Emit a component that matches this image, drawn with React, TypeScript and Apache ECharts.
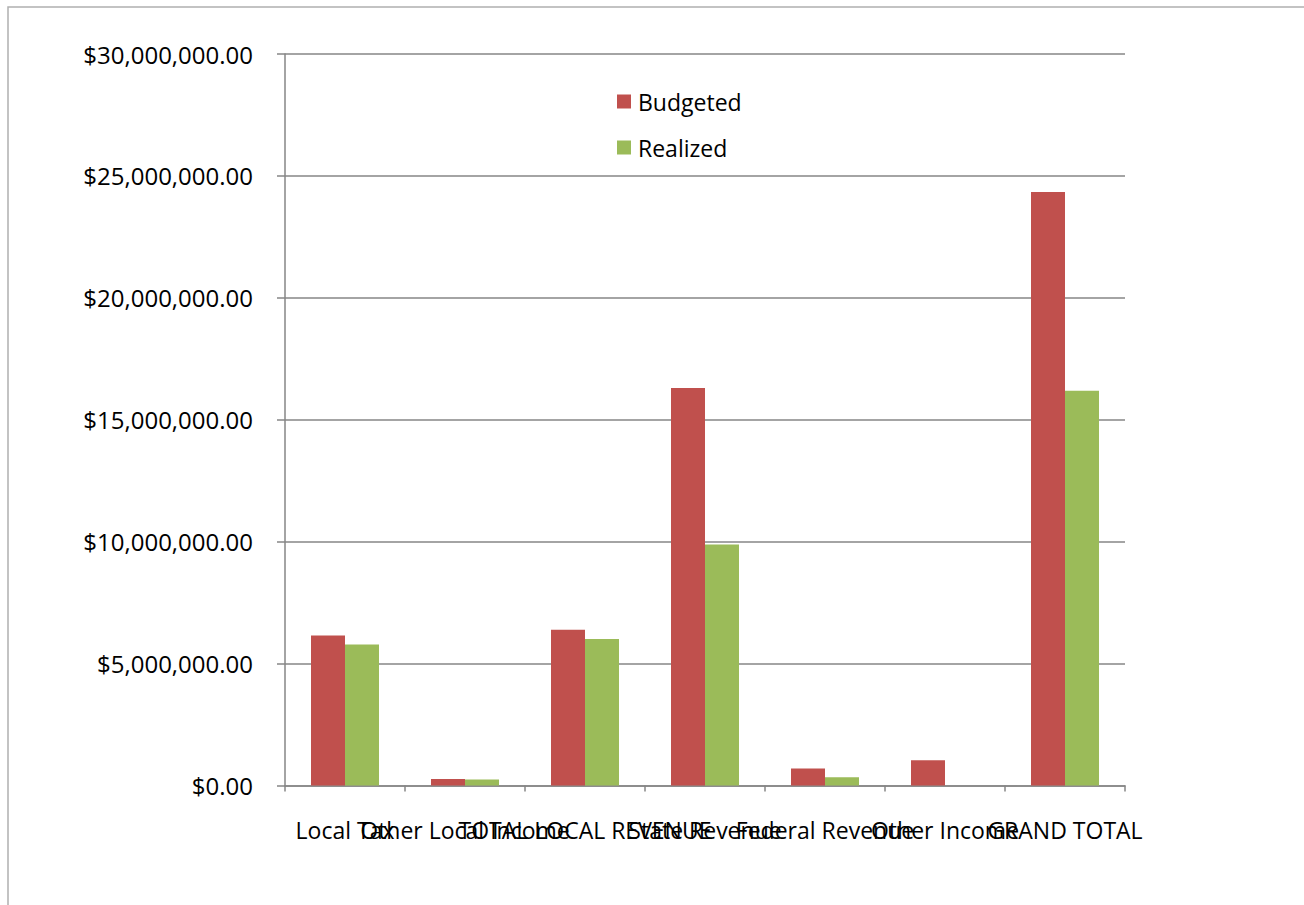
import React, { useEffect, useRef } from "react";
import * as echarts from "echarts";

const categories = [
  "Local Tax",
  "Other Local Income",
  "TOTAL LOCAL REVENUE",
  "State Revenue",
  "Federal Revenue",
  "Other Income",
  "GRAND TOTAL",
];
const budgeted = [6150000, 270000, 6390000, 16300000, 700000, 1040000, 24340000];
const realized = [5780000, 250000, 6010000, 9880000, 340000, 0, 16190000];
const yTicks = { min: 0, max: 30000000, interval: 5000000 };

const FONT = "'Open Sans', 'Noto Sans', sans-serif";

function fmt(v: number) {
  return "$" + v.toLocaleString("en-US", { minimumFractionDigits: 2, maximumFractionDigits: 2 });
}

export default function App() {
  const ref = useRef<HTMLDivElement>(null);
  useEffect(() => {
    if (!ref.current) return;
    const chart = echarts.init(ref.current, null, { renderer: "svg" });
    chart.setOption({
      animation: false,
      backgroundColor: "#ffffff",
      textStyle: { fontFamily: FONT },
      graphic: [
        {
          type: "rect",
          shape: { x: 8, y: 7, width: 1400, height: 1000 },
          style: { fill: "none", stroke: "#b0b0b0", lineWidth: 1.5 },
          silent: true,
        },
      ],
      grid: { left: 285, right: 179, top: 54, bottom: 119.5, containLabel: false },
      legend: {
        orient: "vertical",
        left: 612,
        top: 85,
        itemWidth: 14,
        itemHeight: 14,
        itemGap: 23,
        icon: "rect",
        textStyle: { fontFamily: FONT, fontSize: 23, color: "#000", padding: [0, 0, 0, 2] },
        data: ["Budgeted", "Realized"],
      },
      xAxis: {
        type: "category",
        data: categories,
        axisLine: { lineStyle: { color: "#868686", width: 1.5 } },
        axisTick: { show: true, length: 6, lineStyle: { color: "#868686", width: 1.5 } },
        axisLabel: {
          interval: 0,
          margin: 33,
          color: "#000",
          fontFamily: FONT,
          fontSize: 23,
          hideOverlap: false,
        },
      },
      yAxis: {
        type: "value",
        min: yTicks.min,
        max: yTicks.max,
        interval: yTicks.interval,
        axisLine: { show: true, lineStyle: { color: "#868686", width: 1.5 } },
        axisTick: { show: true, length: 8, lineStyle: { color: "#868686", width: 1.5 } },
        splitLine: { show: true, lineStyle: { color: "#868686", width: 1.5 } },
        axisLabel: {
          margin: 32,
          color: "#000",
          fontFamily: FONT,
          fontSize: 24,
          formatter: (v: number) => fmt(v),
        },
      },
      series: [
        {
          name: "Budgeted",
          type: "bar",
          data: budgeted,
          barWidth: 34,
          barGap: "0%",
          itemStyle: { color: "#C0504D" },
        },
        {
          name: "Realized",
          type: "bar",
          data: realized,
          barWidth: 34,
          barGap: "0%",
          itemStyle: { color: "#9BBB59" },
        },
      ],
    });
    return () => chart.dispose();
  }, []);
  return (
    <div
      ref={ref}
      style={{ position: "fixed", left: 0, top: 0, width: 1304, height: 905 }}
    />
  );
}
